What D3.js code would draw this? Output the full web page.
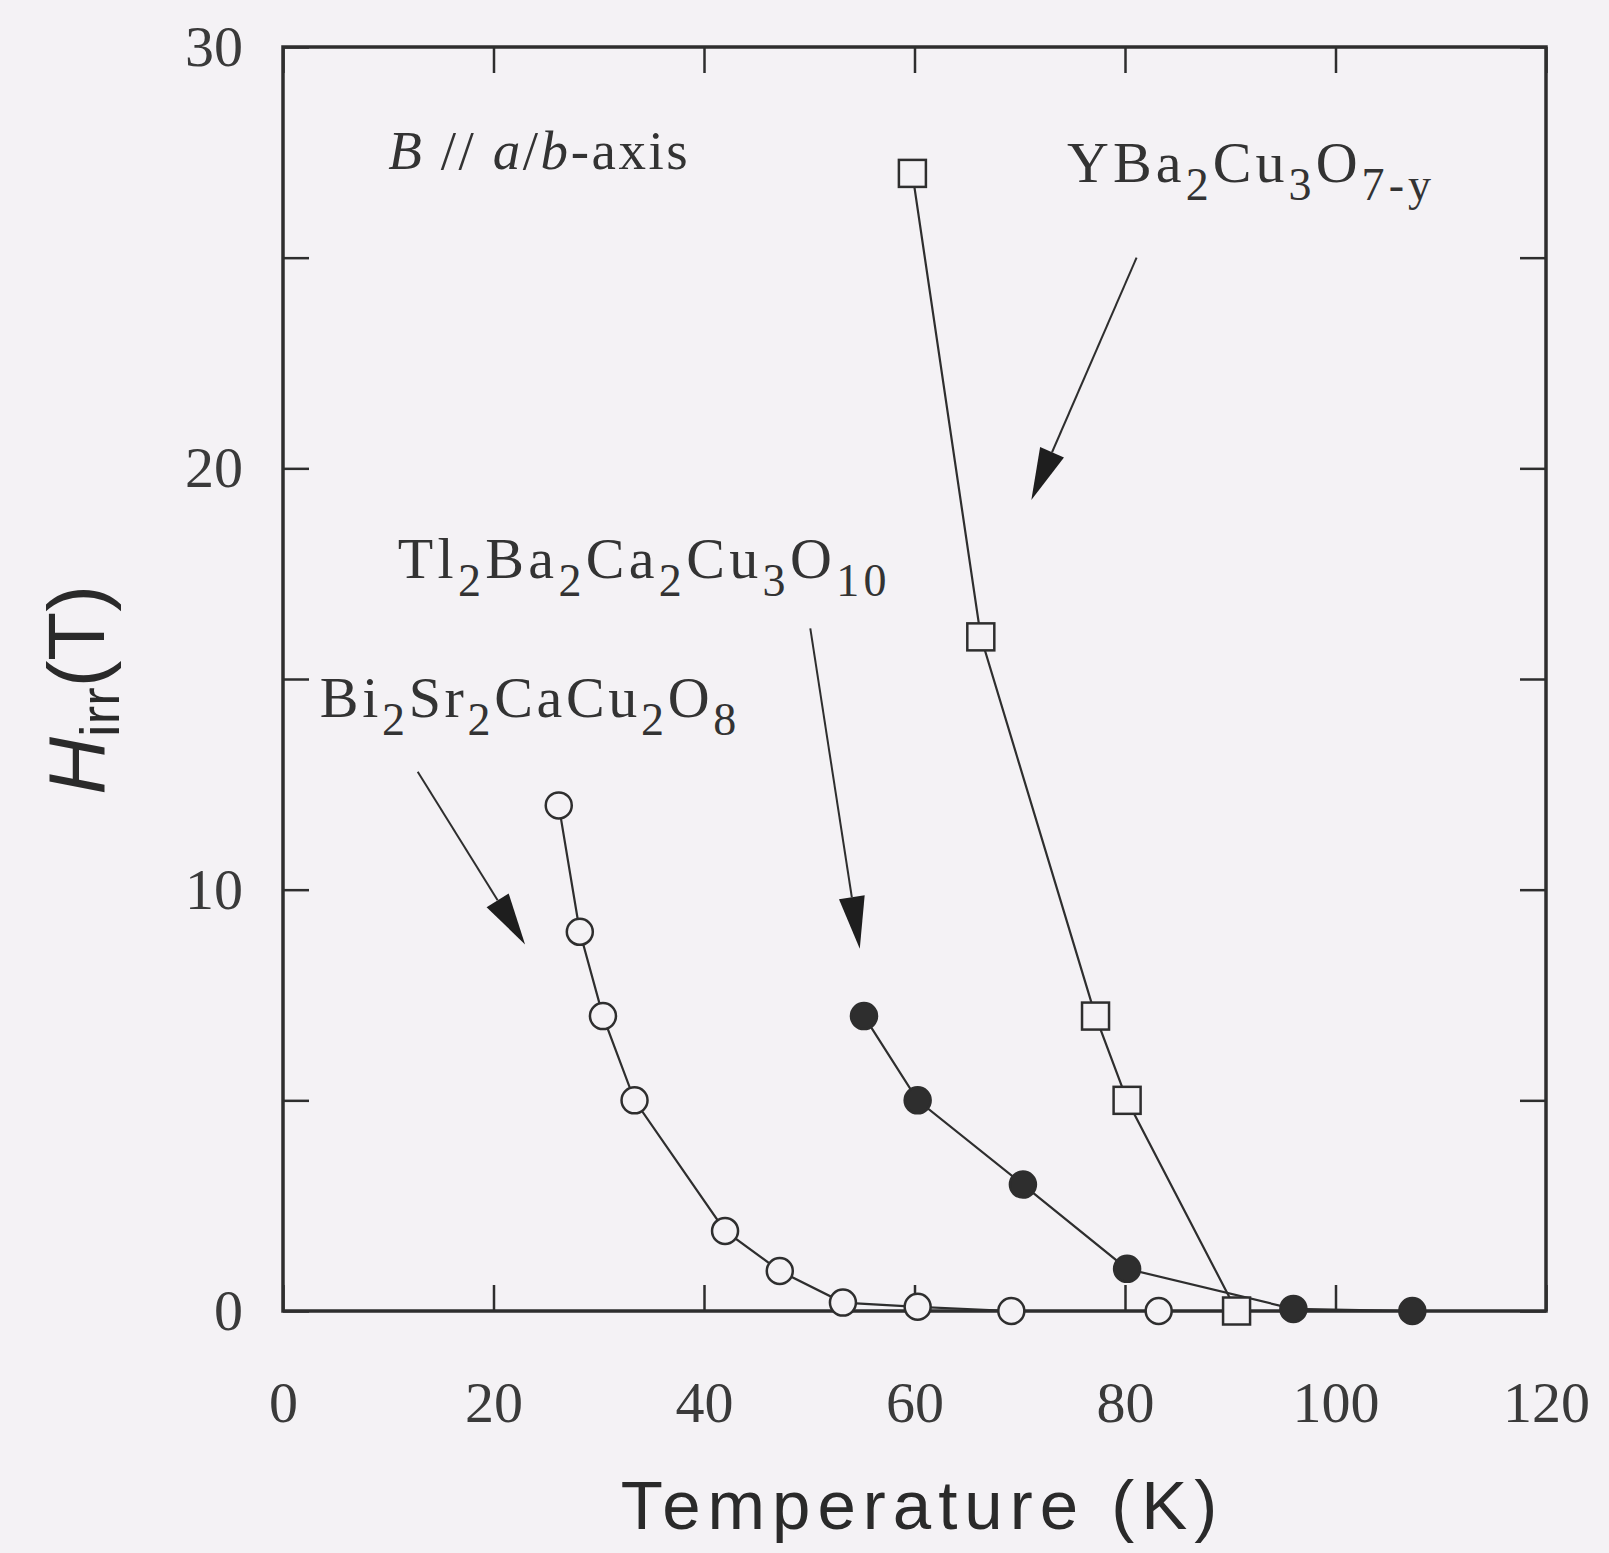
<!DOCTYPE html>
<html>
<head>
<meta charset="utf-8">
<script src="https://cdn.jsdelivr.net/npm/d3@7"></script>
<style>
  html, body { margin: 0; padding: 0; background: #f4f2f5; }
  svg { display: block; }
</style>
</head>
<body>
<div id="chart"></div>
<script>
// Bi2Sr2CaCu2O8 (open circles)
const biT = [26.2, 28.2, 30.4, 33.4, 42.0, 47.2, 53.2, 60.3, 69.2, 83.2];
const biH = [12.0, 9.0, 7.0, 5.0, 1.9, 0.95, 0.2, 0.1, 0, 0];
// Tl2Ba2Ca2Cu3O10 (filled circles)
const tlT = [55.2, 60.3, 70.3, 80.2, 96.0, 107.3];
const tlH = [7.0, 5.0, 3.0, 1.0, 0.05, 0];
// YBa2Cu3O7-y (open squares)
const ybT = [59.8, 66.3, 77.2, 80.2, 90.6];
const ybH = [27.0, 16.0, 7.0, 5.0, 0];

const xTicks = [0, 20, 40, 60, 80, 100, 120];
const yTicks = [0, 5, 10, 15, 20, 25, 30];
const yLabels = [0, 10, 20, 30];

// chemical labels: [text, isSubscript]
const ybLabel = [["YBa", 0], ["2", 1], ["Cu", 0], ["3", 1], ["O", 0], ["7-y", 1]];
const tlLabel = [["Tl", 0], ["2", 1], ["Ba", 0], ["2", 1], ["Ca", 0], ["2", 1], ["Cu", 0], ["3", 1], ["O", 0], ["10", 1]];
const biLabel = [["Bi", 0], ["2", 1], ["Sr", 0], ["2", 1], ["CaCu", 0], ["2", 1], ["O", 0], ["8", 1]];

// arrows in data units: [x1, y1, x2(tip), y2(tip)]
const ybArrow = [81.1, 25.0, 71.1, 19.25];
const tlArrow = [50.1, 16.2, 54.8, 8.6];
const biArrow = [12.8, 12.8, 23.0, 8.7];

const W = 1609, H = 1553;
const margin = { top: 47, right: 63, bottom: 242, left: 283 };
const width = W - margin.left - margin.right;
const height = H - margin.top - margin.bottom;
const ink = "#2e2e2e";
const bg = "#f4f2f5";

const svg = d3.select("#chart").append("svg")
    .attr("width", W)
    .attr("height", H);

svg.append("rect").attr("width", W).attr("height", H).attr("fill", bg);

const g = svg.append("g")
    .attr("transform", `translate(${margin.left},${margin.top})`);

const x = d3.scaleLinear().domain([0, 120]).range([0, width]);
const y = d3.scaleLinear().domain([0, 30]).range([height, 0]);

// axes with inward ticks
const tickLen = 26;
function styleAxis(sel) {
    sel.select(".domain").remove();
    sel.selectAll(".tick line").attr("stroke", ink).attr("stroke-width", 2.5);
    sel.selectAll(".tick text")
        .attr("fill", "#3a3a3a")
        .style("font-family", "'Liberation Serif', serif")
        .style("font-size", "58px");
}

g.append("g")
    .attr("transform", `translate(0,${height})`)
    .call(d3.axisBottom(x).tickValues(xTicks).tickSizeInner(-tickLen).tickSizeOuter(0).tickPadding(70))
    .call(styleAxis);

g.append("g")
    .call(d3.axisTop(x).tickValues(xTicks).tickSizeInner(-tickLen).tickSizeOuter(0).tickFormat(""))
    .call(styleAxis);

g.append("g")
    .call(d3.axisLeft(y).tickValues(yTicks).tickSizeInner(-tickLen).tickSizeOuter(0).tickPadding(40)
        .tickFormat(d => yLabels.includes(d) ? d : ""))
    .call(styleAxis);

g.append("g")
    .attr("transform", `translate(${width},0)`)
    .call(d3.axisRight(y).tickValues(yTicks).tickSizeInner(-tickLen).tickSizeOuter(0).tickFormat(""))
    .call(styleAxis);

// frame
g.append("rect")
    .attr("width", width)
    .attr("height", height)
    .attr("fill", "none")
    .attr("stroke", ink)
    .attr("stroke-width", 3.5);

// series
const line = d3.line().x(d => x(d[0])).y(d => y(d[1]));
const series = [
    { T: biT, H: biH, shape: "circle", fill: bg },
    { T: tlT, H: tlH, shape: "circle", fill: ink },
    { T: ybT, H: ybH, shape: "square", fill: bg }
];

series.forEach(s => {
    const pts = s.T.map((t, i) => [t, s.H[i]]);
    g.append("path")
        .datum(pts)
        .attr("d", line)
        .attr("fill", "none")
        .attr("stroke", ink)
        .attr("stroke-width", 2.2);
});

series.forEach(s => {
    const pts = s.T.map((t, i) => [t, s.H[i]]);
    if (s.shape === "circle") {
        g.selectAll(null).data(pts).enter().append("circle")
            .attr("cx", d => x(d[0]))
            .attr("cy", d => y(d[1]))
            .attr("r", 13)
            .attr("fill", s.fill)
            .attr("stroke", ink)
            .attr("stroke-width", 2.5);
    } else {
        const a = 27;
        g.selectAll(null).data(pts).enter().append("rect")
            .attr("x", d => x(d[0]) - a / 2)
            .attr("y", d => y(d[1]) - a / 2)
            .attr("width", a)
            .attr("height", a)
            .attr("fill", s.fill)
            .attr("stroke", ink)
            .attr("stroke-width", 2.5);
    }
});

// arrows
function arrow(a) {
    const x1 = x(a[0]), y1 = y(a[1]), x2 = x(a[2]), y2 = y(a[3]);
    const ang = Math.atan2(y2 - y1, x2 - x1);
    const len = 52, hw = 13;
    const bx = x2 - len * Math.cos(ang), by = y2 - len * Math.sin(ang);
    const px = -Math.sin(ang) * hw, py = Math.cos(ang) * hw;
    g.append("line")
        .attr("x1", x1).attr("y1", y1).attr("x2", bx).attr("y2", by)
        .attr("stroke", ink).attr("stroke-width", 2);
    g.append("path")
        .attr("d", `M${x2},${y2}L${bx + px},${by + py}L${bx - px},${by - py}Z`)
        .attr("fill", "#1e1e1e");
}
[ybArrow, tlArrow, biArrow].forEach(arrow);

// stretch a label to the width it has in the original figure
function fitWidth(t, target) {
    const n = t.text().length;
    const w = t.node().getBBox().width;
    t.style("letter-spacing", ((target - w) / n) + "px");
}

// chemical formula labels
function formula(parts, tx, ty, target) {
    const t = g.append("text")
        .attr("x", x(tx))
        .attr("y", y(ty))
        .attr("fill", "#333")
        .style("font-family", "'Liberation Serif', serif")
        .style("font-size", "58px");
    let shifted = false;
    parts.forEach(p => {
        const ts = t.append("tspan").text(p[0]);
        if (p[1] && !shifted) { ts.attr("dy", 18).style("font-size", "46px"); shifted = true; }
        else if (p[1]) { ts.style("font-size", "46px"); }
        else if (shifted) { ts.attr("dy", -18); shifted = false; }
    });
    fitWidth(t, target);
    return t;
}
formula(ybLabel, 74.5, 26.8, 368);
formula(tlLabel, 10.9, 17.4, 493);
formula(biLabel, 3.5, 14.1, 420);

// field direction note
const note = g.append("text")
    .attr("x", x(10.0))
    .attr("y", y(27.1))
    .attr("fill", "#333")
    .style("font-family", "'Liberation Serif', serif")
    .style("font-size", "55px");
note.append("tspan").style("font-style", "italic").text("B");
note.append("tspan").text(" // ");
note.append("tspan").style("font-style", "italic").text("a");
note.append("tspan").text("/");
note.append("tspan").style("font-style", "italic").text("b");
note.append("tspan").text("-axis");
fitWidth(note, 302);

// axis titles
svg.append("text")
    .attr("x", margin.left + width / 2 + 8)
    .attr("y", 1529)
    .attr("text-anchor", "middle")
    .attr("fill", "#2a2a2a")
    .style("font-family", "'Liberation Sans', Arial, sans-serif")
    .style("font-size", "69px")
    .style("letter-spacing", "7px")
    .text("Temperature (K)");

const yt = svg.append("text")
    .attr("transform", "translate(104,690) rotate(-90)")
    .attr("text-anchor", "middle")
    .attr("fill", "#2a2a2a")
    .style("font-family", "'Liberation Sans', Arial, sans-serif")
    .style("font-size", "80px");
yt.append("tspan").style("font-style", "italic").text("H");
yt.append("tspan").attr("dy", 15).style("font-size", "56px").text("irr");
yt.append("tspan").attr("dy", -15).text("(T)");
</script>
</body>
</html>
